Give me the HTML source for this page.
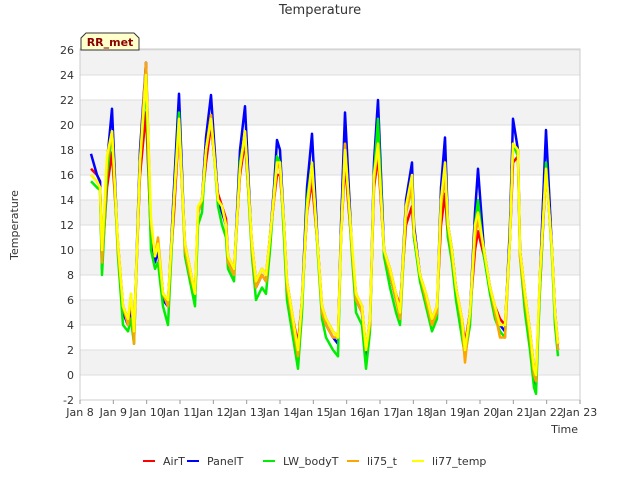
<!DOCTYPE html>
<html><head><meta charset="utf-8"><style>
body{margin:0;background:#fff;font-family:"Liberation Sans",sans-serif;}
svg text{font-family:"DejaVu Sans","Liberation Sans",sans-serif;}
</style></head><body>
<svg id="c" width="640" height="480" xmlns="http://www.w3.org/2000/svg">
<rect x="0" y="0" width="640" height="480" fill="#fff"/>
<g id="bands"></g><g id="grid"></g>
<rect x="80" y="49" width="500" height="351" fill="none" stroke="#cccccc"/>
<g id="series"></g><g id="ticks"></g>
<text x="320" y="14" text-anchor="middle" font-size="13" fill="#333">Temperature</text>
<text x="18" y="225" text-anchor="middle" font-size="11" fill="#333" transform="rotate(-90 18 225)">Temperature</text>
<text x="578" y="433" text-anchor="end" font-size="11" fill="#333">Time</text>
<g id="lab">
<path d="M81,50 L81,38 L86,33 L134,33 L139,38 L139,50 Z" fill="#ffffcc" stroke="#333"/>
<text x="110" y="46" text-anchor="middle" font-size="11" font-weight="bold" fill="#8b0000">RR_met</text>
</g>
<g id="legend"></g>
</svg>
<script>
const times=[.33,.51,.60,.66,.81,.96,1.14,1.29,1.44,1.53,1.62,1.80,1.98,2.13,2.25,2.34,2.49,2.64,2.82,2.97,3.15,3.30,3.45,3.54,3.66,3.78,3.93,4.14,4.26,4.38,4.44,4.62,4.80,4.95,5.16,5.28,5.46,5.58,5.70,5.82,5.91,6.00,6.12,6.21,6.39,6.54,6.66,6.81,6.96,7.14,7.26,7.38,7.59,7.74,7.83,7.95,8.16,8.28,8.46,8.58,8.70,8.82,8.94,9.12,9.30,9.48,9.60,9.78,9.96,10.02,10.20,10.38,10.56,10.71,10.83,10.95,11.04,11.16,11.28,11.46,11.55,11.70,11.85,11.94,12.12,12.30,12.45,12.60,12.75,12.90,12.99,13.14,13.20,13.35,13.50,13.62,13.68,13.80,13.98,14.16,14.25,14.34];
const airT=[16.5,16,15.5,9,15,17.8,10.5,5.5,4.5,6,3.5,16,21,11,9.5,10.5,6.5,6,13,20,10.5,8.5,6.5,13,14,17,20,14.5,13.5,12.5,9.5,8.5,16,18.7,10.5,7.5,8.5,8,11,14,16,16,12,7.5,4.5,2.5,6,13,15.5,10,5.5,4.5,3.5,3,11,17,10,6.5,5.5,2,4.5,15,17.5,10,8.5,6.5,5.5,12,13.5,11,8,6.5,4.5,5.5,12,14.5,11,9.5,7,4.5,2.5,5,10,11.5,9.5,7,5.5,4.5,4,11,17,17.5,10,6.5,3.5,0.5,0,7,16.5,10,5,2.5];
const panelT=[17.7,16,15.5,8.5,17,21.3,10,5,4,5.5,3,18,25,11,9,10,6,5.5,15,22.5,10,8,6,13,14,19,22.4,14,13,12,9,8,18,21.5,10,7,8,7.5,11,15,18.8,18,12,7,4,2,6,15,19.3,10,5,4,3,2.5,12,21,10,6,5,1.5,4,17,22,10,8,6,5,14,17,12,8,6,4,5,15,19,12,10,7,4,2,5,13,16.5,10,7,5,4,3.5,12,20.5,18,10,6,3,0,-1,8,19.6,10,5,2];
const lwBodyT=[15.5,15,14.8,8,16,19.5,9.5,4,3.5,4.5,2.5,17,23.5,10,8.5,9,5.5,4,14,21,9.5,7.5,5.5,12,13,18,20.8,13.5,12,11,8.5,7.5,17,19.3,9.5,6,7,6.5,10,14.5,17.5,17,11,6,3,0.5,5,14,17,9.5,4.5,3,2,1.5,11,18.5,9.5,5,4,0.5,3.5,16,20.5,9.5,7,5,4,13,15,11,7.5,5.5,3.5,4.5,14,16.5,11,9,6,3,1.5,4,12,14,9.5,6.5,4.5,3.5,3,11,18.5,17.5,9.5,5,2,-1,-1.5,7,17,9.5,4,1.5];
const li75=[16,15.5,15,9,17,19.5,10,5.5,4,6.5,2.5,17,25,12,9.5,11,6.5,5.5,14,20,10,8,6.5,13,14,18,20.8,14,13.5,12,9,8,16.5,19.5,10,7,8,7.5,11,14,17,16.5,12,7,4,1.5,6,13,16.5,10,5,4,3,3,11,18.5,10,6,5,2,4,15.5,18.5,10,8,6,4.5,13,15,11.5,8,6,4,5,13.5,16,12,9.5,7,4,1,5,11,12.5,10,7,5,3,3,11,18.5,18,9.5,6,3,0,-0.5,8,16.5,10,5,2];
const li77=[16,15.5,15,10,17.5,19.5,10.5,5.5,4.5,6.5,3.5,17,24,12.5,9.5,10.5,6.5,6,14,20.5,10.5,8.5,6.5,13.5,14,18,20.5,14,13.5,12,9.5,8.5,16.5,19.5,10.5,7.5,8.5,8,11,14.5,17,17,12,7.5,4.5,2,6,13.5,17,10,5.5,4.5,3.5,3,11,18,10.5,6.5,5.5,2,4.5,16,18.5,10,8.5,6.5,5,13.5,16,11.5,8,6.5,4.5,5.5,14,17,12,10,7,4.5,2,5,12,13,10,7,5.5,4,4,11,18.5,18,10,6.5,3.5,0.5,0,8,16.5,10,5,2.5];
const xLabels=["Jan 8","Jan 9","Jan 10","Jan 11","Jan 12","Jan 13","Jan 14","Jan 15","Jan 16","Jan 17","Jan 18","Jan 19","Jan 20","Jan 21","Jan 22","Jan 23"];
const yTicks=[-2,0,2,4,6,8,10,12,14,16,18,20,22,24,26];
const seriesNames=["AirT","PanelT","LW_bodyT","li75_t","li77_temp"];
const seriesColors=["#ff0000","#0000ff","#00ee00","#ffa500","#ffff00"];
const seriesData=[airT,panelT,lwBodyT,li75,li77];
const NS="http://www.w3.org/2000/svg";
const X=d=>80+d*(500/15), Y=v=>375-v*12.5;
function mk(tag,attrs,parent){const e=document.createElementNS(NS,tag);for(const k in attrs)e.setAttribute(k,attrs[k]);parent.appendChild(e);return e;}
const bands=document.getElementById('bands'),grid=document.getElementById('grid'),ticks=document.getElementById('ticks'),ser=document.getElementById('series'),leg=document.getElementById('legend');
yTicks.forEach(v=>{
  if(((v%4)+4)%4===0 && v<26){const r=mk('rect',{x:80,y:Y(v+2),width:500,height:25,fill:'#f2f2f2'},bands);
  
  }
  const l=mk('line',{x1:80,x2:580,y1:Y(v),y2:Y(v),stroke:'#dddddd'},grid);
  
  
  const t=mk('text',{x:74,y:Y(v)+4,'text-anchor':'end','font-size':11,fill:'#333'},ticks);t.textContent=v;
  
  
});
xLabels.forEach((s,i)=>{
  const tk=mk('line',{x1:X(i),x2:X(i),y1:400,y2:404,stroke:'#999'},ticks);
  
  
  const t=mk('text',{x:X(i),y:416,'text-anchor':'middle','font-size':11,fill:'#333'},ticks);t.textContent=s;
  
  
});
seriesData.forEach((arr,si)=>{
  const pts=arr.map((v,i)=>X(times[i]).toFixed(1)+','+Y(v).toFixed(1)).join(' ');
  const p=mk('polyline',{points:pts,fill:'none',stroke:seriesColors[si],'stroke-width':2.5,'stroke-linejoin':'round'},ser);
  
  
});
const legX=[143,187,263,347,412];
seriesNames.forEach((n,i)=>{
  const g=mk('g',{},leg);
  
  
  mk('line',{x1:legX[i],x2:legX[i]+12,y1:461,y2:461,stroke:seriesColors[i],'stroke-width':2},g);
  const t=mk('text',{x:legX[i]+20,y:465,'font-size':11,fill:'#333'},g);t.textContent=n;
});
document.getElementById('c').appendChild(document.getElementById('lab'));
</script>
</body></html>
